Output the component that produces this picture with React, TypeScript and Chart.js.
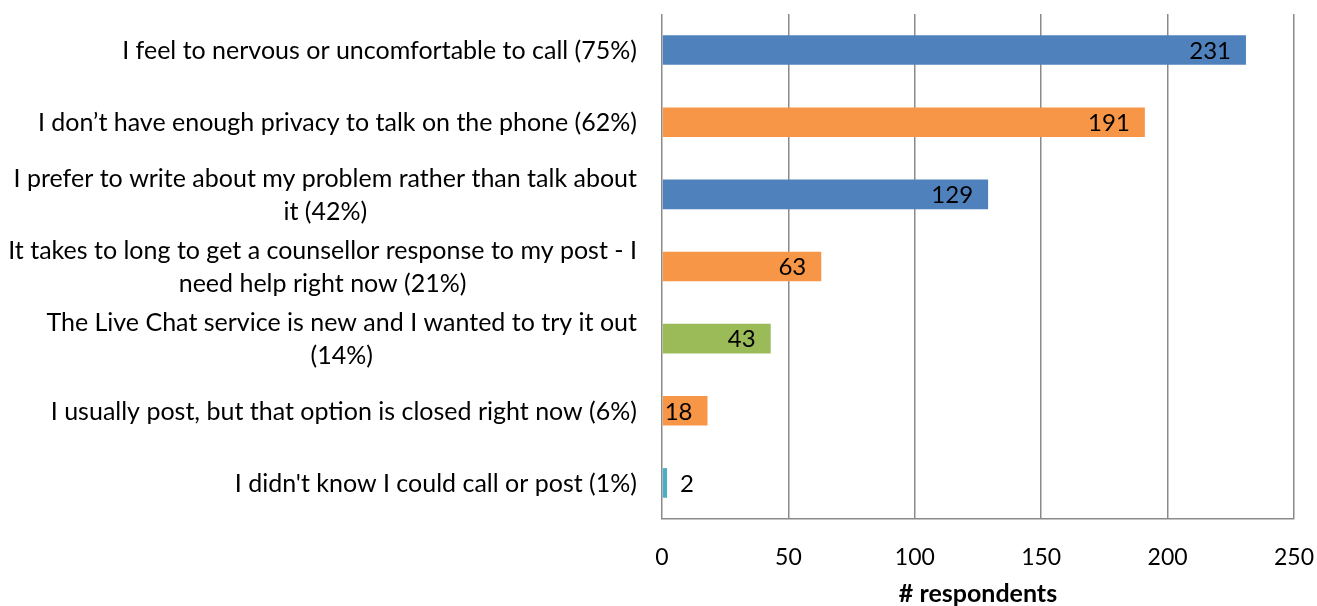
import React, { useEffect, useRef } from "react";
import { Chart, registerables } from "chart.js";

Chart.register(...registerables);

const categories: string[][] = [
  ["I feel to nervous or uncomfortable to call (75%)"],
  ["I don\u2019t have enough privacy to talk on the phone (62%)"],
  ["I prefer to write about my problem rather than talk about", "it (42%)"],
  ["It takes to long to get a counsellor response to my post - I", "need help right now (21%)"],
  ["The Live Chat service is new and I wanted to try it out", "(14%)"],
  ["I usually post, but that option is closed right now (6%)"],
  ["I didn't know I could call or post (1%)"],
];
const respondents: number[] = [231, 191, 129, 63, 43, 18, 2];
const barColors: string[] = ["#4F81BD", "#F79646", "#4F81BD", "#F79646", "#9BBB59", "#F79646", "#4BACC6"];
const xTicks = { min: 0, max: 250, step: 50 };
const axisTitle = "# respondents";

const FONT = "Lato";
const GRID = "#8a8a8a";

const labelPlugin = {
  id: "customLabels",
  afterDatasetsDraw(chart: any) {
    const ctx = chart.ctx;
    const meta = chart.getDatasetMeta(0);
    ctx.save();
    ctx.font = `24px ${FONT}`;
    ctx.fillStyle = "#000";
    ctx.textBaseline = "middle";
    meta.data.forEach((bar: any, i: number) => {
      const v = respondents[i];
      const w = bar.x - bar.base;
      if (w > 30) {
        ctx.textAlign = "right";
        ctx.fillText(String(v), bar.x - 15, bar.y + 1);
      } else {
        ctx.textAlign = "left";
        ctx.fillText(String(v), bar.x + 13, bar.y + 1);
      }
    });
    // category labels
    ctx.font = `25px ${FONT}`;
    const yScale = chart.scales.y;
    const rightEdge = chart.chartArea.left - 25;
    const lineH = 33;
    categories.forEach((lines, i) => {
      const cy = yScale.getPixelForValue(i) + 1;
      let widest = 0;
      lines.forEach((l) => {
        widest = Math.max(widest, ctx.measureText(l).width);
      });
      const cx = rightEdge - widest / 2;
      ctx.textAlign = "center";
      lines.forEach((l, j) => {
        const y = cy + (j - (lines.length - 1) / 2) * lineH;
        ctx.fillText(l, cx, y);
      });
    });
    ctx.restore();
  },
};

export default function App() {
  const ref = useRef<HTMLCanvasElement>(null);
  useEffect(() => {
    if (!ref.current) return;
    const chart = new Chart(ref.current, {
      type: "bar",
      data: {
        labels: categories.map((c) => c.join(" ")),
        datasets: [
          {
            data: respondents,
            backgroundColor: barColors,
            borderWidth: 0,
            barPercentage: 0.41,
            categoryPercentage: 1,
          },
        ],
      },
      options: {
        indexAxis: "y",
        animation: false,
        responsive: false,
        maintainAspectRatio: false,
        layout: { padding: { left: 662, top: 14, right: 23, bottom: 0 } },
        plugins: { legend: { display: false }, tooltip: { enabled: false } },
        scales: {
          y: { display: false },
          x: {
            min: xTicks.min,
            max: xTicks.max,
            afterFit: (s: any) => {
              s.height = 87;
              s.paddingLeft = 0;
              s.paddingRight = 0;
            },
            ticks: {
              stepSize: xTicks.step,
              color: "#000",
              font: { family: FONT, size: 23 },
              padding: 25,
            },
            grid: { color: GRID, lineWidth: 1.5, drawTicks: false },
            border: { color: GRID, width: 1.5 },
            title: {
              display: true,
              text: axisTitle,
              color: "#000",
              font: { family: FONT, size: 25, weight: "bold", lineHeight: 1 },
              padding: { top: 0, bottom: 0 },
            },
          },
        },
      },
      plugins: [labelPlugin],
    });
    return () => chart.destroy();
  }, []);
  return (
    <div style={{ position: "fixed", left: 0, top: 0, width: 1317, height: 606, background: "#fff" }}>
      <canvas ref={ref} width={1317} height={606} style={{ width: 1317, height: 606 }} />
    </div>
  );
}
